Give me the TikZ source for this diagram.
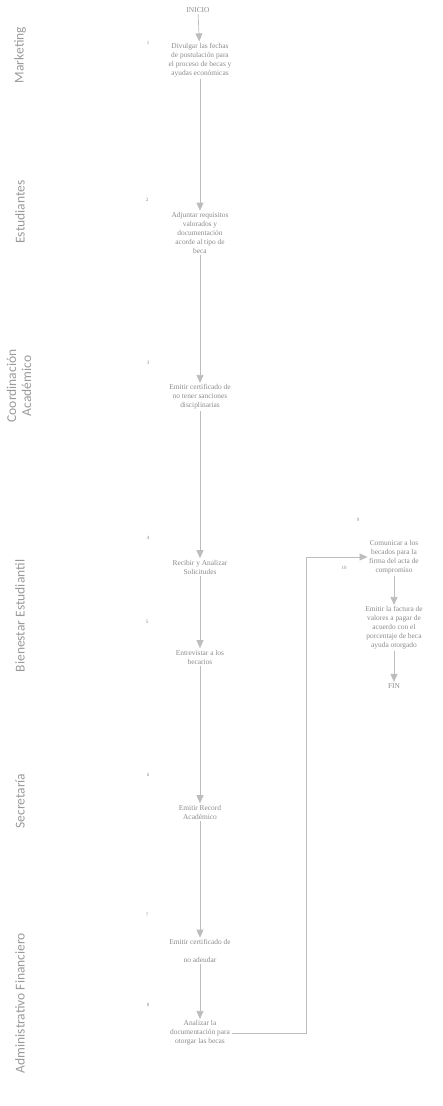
\documentclass[tikz,border=0pt]{standalone}
\usepackage{fontspec}
\setmainfont{Liberation Serif}
\newfontfamily\lanefont{Carlito}
\usetikzlibrary{arrows.meta,calc}
\definecolor{txtgray}{HTML}{8A8A8A}
\definecolor{linegray}{HTML}{BDBDBD}
\definecolor{lanegray}{HTML}{9A9A9A}
\begin{document}
\begin{tikzpicture}[x=1pt,y=-1pt,
  lane/.style={rotate=90,font=\lanefont\fontsize{13.5}{15}\selectfont,text=lanegray,align=center,inner sep=0pt},
  stepbox/.style={font=\fontsize{7.4}{9}\selectfont,text=txtgray,align=center,inner sep=1.5pt},
  numlbl/.style={font=\fontsize{5}{6}\selectfont,text=txtgray,inner sep=0pt},
  flow/.style={draw=linegray,line width=0.7pt,-{Triangle[width=7pt,length=8pt,fill=linegray]}}
]
\useasboundingbox (0,0) rectangle (443,1106);
% lanes
\node[lane] (l1) at (20,55) {Marketing};
\node[lane] (l2) at (20,212) {Estudiantes};
\node[lane] (l3) at (19,386) {Coordinación\\Académico};
\node[lane] (l4) at (20,616) {Bienestar Estudiantil};
\node[lane] (l5) at (20,801) {Secretaría};
\node[lane] (l6) at (20,1003) {Administrativo Financiero};
% steps
\node[stepbox] (inicio) at (198,10) {INICIO};
\node[stepbox] (b1) at (200,60) {Divulgar las fechas\\de postulación para\\el proceso de becas y\\ayudas económicas};
\node[stepbox] (b2) at (200,233) {Adjuntar requisitos\\valorados y\\documentación\\acorde al tipo de\\beca};
\node[stepbox] (b3) at (200,397) {Emitir certificado de\\no tener sanciones\\disciplinarias};
\node[stepbox] (b4) at (200,567) {Recibir y Analizar\\Solicitudes};
\node[stepbox] (b5) at (200,657) {Entrevistar a los\\becarios};
\node[stepbox] (b6) at (200,812) {Emitir Record\\Académico};
\node[stepbox] (b7) at (200,951) {Emitir certificado de\\[9pt]no adeudar};
\node[stepbox] (b8) at (200,1033) {Analizar la\\documentación para\\otorgar las becas};
\node[stepbox] (b9) at (394,557) {Comunicar a los\\becados para la\\firma del acta de\\compromiso};
\node[stepbox] (b10) at (394,628) {Emitir la factura de\\valores a pagar de\\acuerdo con el\\porcentaje de beca\\ayuda otorgado};
\node[stepbox] (fin) at (394,686) {FIN};
% numbers
\node[numlbl] (n1) at (148,43) {1};
\node[numlbl] (n2) at (147,200) {2};
\node[numlbl] (n3) at (148,363) {3};
\node[numlbl] (n4) at (148,538) {4};
\node[numlbl] (n5) at (147,622) {5};
\node[numlbl] (n6) at (148,775) {6};
\node[numlbl] (n7) at (147,915) {7};
\node[numlbl] (n8) at (148,1005) {8};
\node[numlbl] (n9) at (358,520) {9};
\node[numlbl] (n10) at (344,568) {10};
% connectors
\draw[flow] (inicio) -- (b1);
\draw[flow] (b1) -- (b2);
\draw[flow] (b2) -- (b3);
\draw[flow] (b3) -- (b4);
\draw[flow] (b4) -- (b5);
\draw[flow] (b5) -- (b6);
\draw[flow] (b6) -- (b7);
\draw[flow] (b7) -- (b8);
\coordinate (c1) at (306,1033);
\draw[flow] (b8.east) -- (b8.east -| c1) |- (b9.west);
\draw[flow] (b9) -- (b10);
\draw[flow] (b10) -- (fin);
\end{tikzpicture}
\end{document}
